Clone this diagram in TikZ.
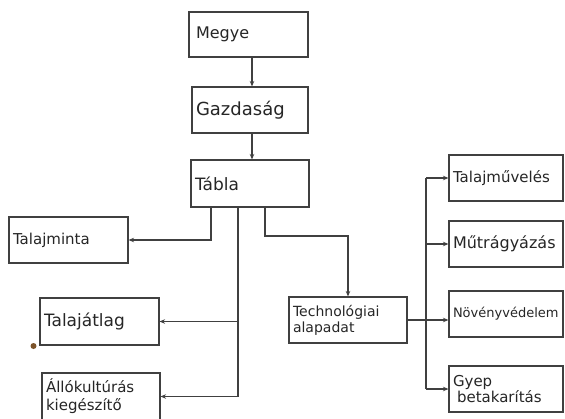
\documentclass[tikz,border=0pt]{standalone}
\usepackage{fontspec}
\setmainfont{DejaVu Sans}
\usetikzlibrary{arrows.meta}
\begin{document}
\begin{tikzpicture}[x=1pt,y=-1pt,
  ink/.style={draw=black!75, line width=1.1pt},
  box/.style={ink, rectangle, inner xsep=4pt, inner ysep=0pt, align=left,
    text=black!85, font=\fontsize{15}{17}\selectfont},
  arr/.style={ink, -{Stealth[length=5.5pt,width=4.5pt]}},
]
\useasboundingbox (0,0) rectangle (565,418);
\fill[white] (0,0) rectangle (565,418);

% column positions of the connectors
\coordinate (xa) at (252,0);
\coordinate (xb) at (211,0);
\coordinate (xc) at (238,0);
\coordinate (xd) at (265,0);
\coordinate (xe) at (426,0);
\coordinate (bend) at (0,236);

% hierarchy boxes
\node[box, minimum width=119pt, text width=109pt, minimum height=45pt,
  font=\fontsize{16}{18}\selectfont] (megye) at (248.5,34.5) {\hspace*{2pt}Megye};
\node[box, minimum width=116pt, text width=108pt, minimum height=46pt,
  font=\fontsize{18}{20}\selectfont] (gazd) at (250,110) {Gazdaság};
\node[box, minimum width=118pt, text width=110pt, minimum height=47pt,
  font=\fontsize{17}{19}\selectfont] (tabla) at (250,183.5) {Tábla};

% left branch
\node[box, minimum width=119pt, text width=111pt, minimum height=46pt]
  (talajminta) at (68.5,240) {Talajminta};
\node[box, minimum width=119pt, text width=111pt, minimum height=47pt,
  font=\fontsize{17}{19}\selectfont] (talajatlag) at (99.5,321.5) {Talajátlag};
\node[box, minimum width=118pt, text width=110pt, minimum height=47pt,
  font=\fontsize{15}{18}\selectfont] (allo) at (101,396.5) {Állókultúrás\\kiegészítő};

% technology branch
\node[box, minimum width=118pt, text width=110pt, minimum height=46pt,
  font=\fontsize{14}{16}\selectfont] (tech) at (348,320) {Technológiai\\alapadat};
\node[box, minimum width=114pt, text width=106pt, minimum height=46pt]
  (tm) at (506,178) {Talajművelés};
\node[box, minimum width=114pt, text width=106pt, minimum height=46pt,
  font=\fontsize{16}{18}\selectfont] (mu) at (506,244) {Műtrágyázás};
\node[box, minimum width=114pt, text width=106pt, minimum height=46pt,
  font=\fontsize{13}{15}\selectfont] (nv) at (506,314) {Növényvédelem};
\node[box, minimum width=114pt, text width=106pt, minimum height=46pt,
  font=\fontsize{15}{16}\selectfont] (gy) at (506,389) {Gyep\\\hspace*{4pt}betakarítás};

% connectors
\draw[arr] (megye.south -| xa) -- (gazd.north -| xa);
\draw[arr] (gazd.south -| xa) -- (tabla.north -| xa);
\draw[arr] (tabla.south -| xb) |- (talajminta.east);
\draw[arr] (tabla.south -| xc) |- (allo.east);
\draw[arr] (xc |- talajatlag.east) -- (talajatlag.east);
\draw[arr] (tabla.south -| xd) -- (xd |- bend) -| (tech.north);
\draw[ink] (tech.east) -- (tech.east -| xe);
\draw[ink] (xe |- tm.west) -- (xe |- gy.west);
\draw[arr] (xe |- tm.west) -- (tm.west);
\draw[arr] (xe |- mu.west) -- (mu.west);
\draw[arr] (tech.east -| xe) -- (tech.east -| nv.west);
\draw[arr] (xe |- gy.west) -- (gy.west);

% ink spot
\fill[brown!65!black] (33.5,346) circle (3pt);
\end{tikzpicture}
\end{document}
